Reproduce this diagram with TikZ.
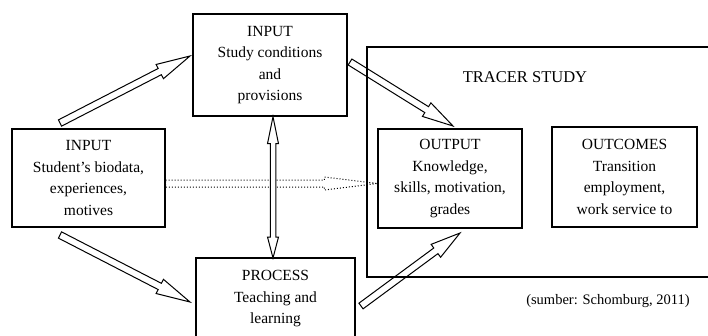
\documentclass[tikz,border=0pt]{standalone}
\usepackage{fontspec}
\setmainfont{Liberation Serif}
\usetikzlibrary{calc}
% #1 options, #2 tail, #3 tip, #4 half shaft width, #5 half head width, #6 head length
\newcommand\harrow[6][]{%
  \coordinate (hb) at ($(#3)!#6!(#2)$);
  \draw[#1] ($(#2)!#4!90:(#3)$) -- ($(hb)!#4!90:(#3)$) -- ($(hb)!#5!90:(#3)$) -- (#3)
    -- ($(hb)!#5!-90:(#3)$) -- ($(hb)!#4!-90:(#3)$) -- ($(#2)!#4!-90:(#3)$) -- cycle;}
\begin{document}
\begin{tikzpicture}[x=1pt,y=-1pt,
  box/.style={draw,line width=1.2pt,inner sep=0pt,align=center,
    font=\fontsize{15.5}{21.5}\selectfont},
  arr/.style={line width=1pt,line join=miter}]
\useasboundingbox (0,0) rectangle (708,335);
\clip (0,0) rectangle (708,335);
% tracer frame
\node[draw,line width=1.2pt,minimum width=373pt,minimum height=230pt,inner sep=0pt] (tracer) at (553.5,162) {};
\node[anchor=base,font=\fontsize{16.5}{21.5}\selectfont] (tt) at (525,82) {TRACER STUDY};
% boxes
\node[box,minimum width=153pt,minimum height=98pt] (A) at (88.5,178)
  {INPUT\\Student’s biodata,\\experiences,\\motives};
\node[box,minimum width=154pt,minimum height=102pt] (B) at (270,65)
  {INPUT\\Study conditions\\and\\provisions};
\node[box,minimum width=159pt,minimum height=110pt] (C) at (275.5,313)
  {};
\node[font=\fontsize{15.5}{21.5}\selectfont,align=center] (Ct) at (275.5,299)
  {PROCESS\\Teaching and\\learning};
\node[box,minimum width=144pt,minimum height=99pt] (O) at (450,178.5)
  {OUTPUT\\Knowledge,\\skills, motivation,\\grades};
\node[box,minimum width=145pt,minimum height=100pt] (OC) at (624.5,177)
  {OUTCOMES\\Transition\\employment,\\work service to};
\node[anchor=base,font=\fontsize{14.5}{18}\selectfont] (src) at (608,304) {(sumber: Schomburg, 2011)};
% arrow end points
\coordinate (ab0) at (60,123);  \coordinate (ab1) at (190,56);
\coordinate (ac0) at (60,235);  \coordinate (ac1) at (190,302);
\coordinate (bo0) at (350,62);  \coordinate (bo1) at (453,126);
\coordinate (co0) at (361,306); \coordinate (co1) at (460,233);
\coordinate (d0) at (A.east |- 0,183.5); \coordinate (d1) at (O.west |- 0,183.5);
\coordinate (vt) at (273,116.7); \coordinate (vb) at (273,258);
% arrows
\harrow[arr]{ab0}{ab1}{3.5pt}{8pt}{34pt}
\harrow[arr]{ac0}{ac1}{3.5pt}{8pt}{34pt}
\harrow[arr]{bo0}{bo1}{3.5pt}{8pt}{31pt}
\harrow[arr]{co0}{co1}{3.5pt}{8pt}{30pt}
\harrow[line width=1pt,dotted]{d0}{d1}{3.5pt}{6.5pt}{53pt}
\draw[arr,fill=white] (vt) -- ++(5.5,27) -- ++(-2.75,0) -- ($(vb)+(2.75,-21)$) -- ++(2.75,0)
  -- (vb) -- ++(-5.5,-21) -- ++(2.75,0) -- ($(vt)+(-2.75,27)$) -- ++(-2.75,0) -- cycle;
\end{tikzpicture}
\end{document}
